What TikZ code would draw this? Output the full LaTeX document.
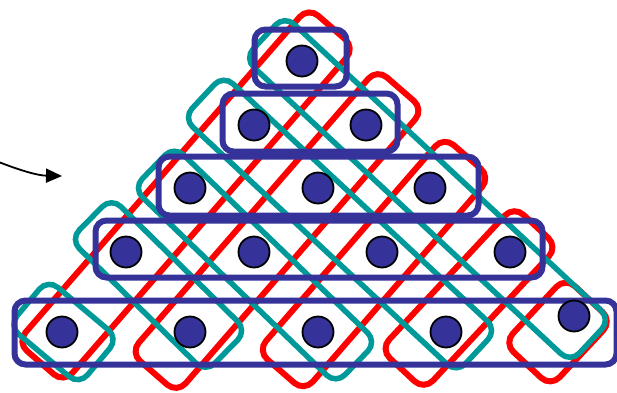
\documentclass[tikz,border=0pt]{standalone}
\usetikzlibrary{arrows.meta}

\definecolor{rowblue}{RGB}{53,51,153}
\definecolor{riseRed}{RGB}{255,0,0}
\definecolor{fallTeal}{RGB}{0,153,153}

\begin{document}
\begin{tikzpicture}[
  x=1pt,y=-1pt,
  group box/.style={
    rounded corners=13pt,
    inner sep=0pt,
    outer sep=0pt
  },
  rise box/.style={
    group box,
    draw=riseRed,
    line width=6pt,
    minimum height=62pt,
    rotate=49
  },
  fall box/.style={
    group box,
    draw=fallTeal,
    line width=5.5pt,
    minimum height=59pt,
    rotate=-43
  },
  row box/.style={
    group box,
    rounded corners=11pt,
    draw=rowblue,
    line width=6pt
  },
  dot/.style={
    circle,
    draw=black,
    fill=rowblue,
    line width=1.8pt,
    minimum size=31pt,
    inner sep=0pt
  },
  pointer/.style={
    -{Triangle[length=16pt,width=14pt]},
    draw=black,
    line width=1.8pt
  }
]
\useasboundingbox (0,0) rectangle (617,392);

% rising diagonals
\node[rise box,minimum width=444pt] (rise-one)   at (186,195) {};
\node[rise box,minimum width=376pt] (rise-two)   at (277,231) {};
\node[rise box,minimum width=284pt] (rise-three) at (374,264) {};
\node[rise box,minimum width=196pt,minimum height=60pt,rotate=-2] (rise-four) at (469,298) {};
\node[rise box,minimum width=90pt,minimum height=64pt,rotate=-2] (rise-five) at (558,332) {};

% falling diagonals
\node[fall box,minimum width=446pt] (fall-one)   at (427.5,189) {};
\node[fall box,minimum width=374pt] (fall-two)   at (340,224) {};
\node[fall box,minimum width=282pt,rotate=-1] (fall-three) at (255,265) {};
\node[fall box,minimum width=190pt,rotate=-1.5] (fall-four) at (158.5,285) {};
\node[fall box,minimum width=92pt,minimum height=61pt,rotate=3] (fall-five) at (63.5,332) {};

% rows
\node[row box,minimum width=92pt,minimum height=57pt]  (row-one)   at (300.5,58) {};
\node[row box,minimum width=175pt,minimum height=58pt] (row-two)   at (310,122.5) {};
\node[row box,minimum width=320pt,minimum height=59pt] (row-three) at (318.5,186) {};
\node[row box,minimum width=447pt,minimum height=57pt] (row-four)  at (319,249) {};
\node[row box,minimum width=602pt,minimum height=64pt] (row-five)  at (315.5,332.5) {};

% dots
\node[dot] (p11) at (302,61) {};
\node[dot] (p21) at (254,125) {};
\node[dot] (p22) at (366,125) {};
\node[dot] (p31) at (190,188) {};
\node[dot] (p32) at (318,188) {};
\node[dot] (p33) at (430,188) {};
\node[dot] (p41) at (126,252) {};
\node[dot] (p42) at (254,252) {};
\node[dot] (p43) at (382,252) {};
\node[dot] (p44) at (510,252) {};
\node[dot] (p51) at (62,332) {};
\node[dot] (p52) at (190,332) {};
\node[dot] (p53) at (318,332) {};
\node[dot] (p54) at (446,332) {};
\node[dot] (p55) at (574,316) {};

% pointer
\coordinate (pointer-start) at (0,162.5);
\coordinate (pointer-end) at (62,176);
\draw[pointer] (pointer-start) .. controls (22,171) and (38,175.5) .. (pointer-end);

\end{tikzpicture}
\end{document}
